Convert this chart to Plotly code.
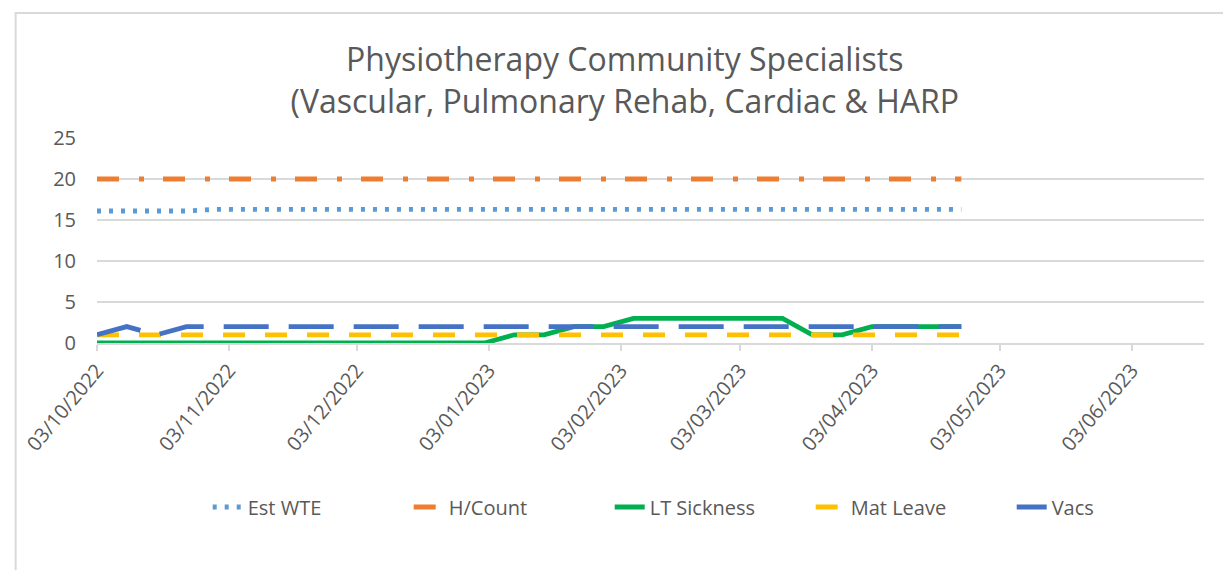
import plotly.graph_objects as go
import pandas as pd

# ---- data ----
dates = pd.date_range("2022-10-03", periods=30, freq="7D")
est_wte = [16.1, 16.1, 16.1, 16.1] + [16.3] * 26
h_count = [20] * 30
lt_sickness = [0] * 14 + [1, 1, 2, 2, 3, 3, 3, 3, 3, 3, 1, 1, 2, 2, 2, 2]
mat_leave = [1] * 30
vacs = [1, 2, 1] + [2] * 27

tick_dates = ["2022-10-03", "2022-11-03", "2022-12-03", "2023-01-03", "2023-02-03",
              "2023-03-03", "2023-04-03", "2023-05-03", "2023-06-03"]
tick_labels = ["03/10/2022", "03/11/2022", "03/12/2022", "03/01/2023", "03/02/2023",
               "03/03/2023", "03/04/2023", "03/05/2023", "03/06/2023"]
y_ticks = [0, 5, 10, 15, 20, 25]

series = [
    ("Est WTE", est_wte, "#5B9BD5", "4px,8px"),
    ("H/Count", h_count, "#ED7D31", "22px,20px,5px,19px"),
    ("LT Sickness", lt_sickness, "#00B050", "solid"),
    ("Mat Leave", mat_leave, "#FFC000", "22px,20px"),
    ("Vacs", vacs, "#4472C4", "45px,20px"),
]

FONT = "Open Sans"
GREY = "#595959"

fig = go.Figure()
for name, vals, col, dash in series:
    fig.add_trace(go.Scatter(x=dates, y=vals, name=name, mode="lines",
                             line=dict(color=col, width=4.8, dash=dash)))

fig.update_layout(
    width=1231, height=570,
    margin=dict(l=81, r=35, t=130, b=235),
    paper_bgcolor="white", plot_bgcolor="white",
    font=dict(family=FONT, color=GREY, size=20),
    title=dict(text="Physiotherapy Community Specialists<br>(Vascular, Pulmonary Rehab, Cardiac & HARP",
               x=0.501, xanchor="center", y=0.889, yanchor="middle",
               font=dict(family=FONT, size=32, color=GREY)),
    showlegend=True,
    legend=dict(orientation="h", x=0.1, xanchor="left", y=-0.8, yanchor="middle",
                font=dict(family=FONT, size=20, color=GREY), entrywidth=156,
                bgcolor="rgba(0,0,0,0)"),
    shapes=[dict(type="rect", xref="paper", yref="paper",
                 x0=-0.0735, x1=1.05, y0=-1.4, y1=1.61,
                 line=dict(color="#D9D9D9", width=2), layer="below")],
)

fig.update_xaxes(
    type="date", range=["2022-10-03", "2023-06-20"],
    tickvals=tick_dates, ticktext=tick_labels, tickangle=-50,
    showgrid=False, showline=True, linecolor="#D9D9D9", linewidth=1.5,
    ticks="outside", ticklen=6, tickcolor="#D9D9D9", tickwidth=1.5,
    tickfont=dict(family=FONT, size=20, color=GREY), zeroline=False,
)
fig.update_yaxes(
    range=[0, 25], tickvals=y_ticks, showgrid=True, gridcolor="#D9D9D9", gridwidth=1.5,
    zeroline=False, showline=False, ticks="", ticklabelstandoff=20,
    tickfont=dict(family=FONT, size=20, color=GREY),
)

fig.write_html("out.html")
